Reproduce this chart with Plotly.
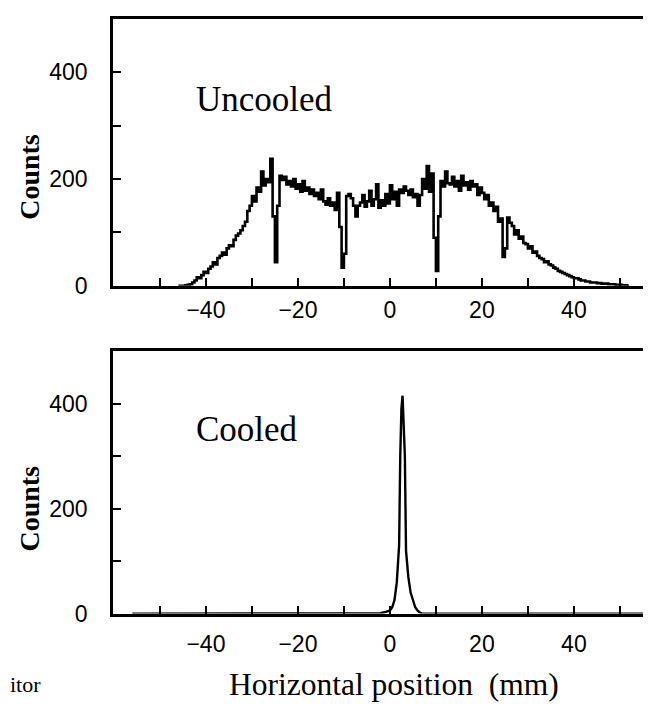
import numpy as np
import plotly.graph_objects as go

# ---------------- data ----------------
# Uncooled profile: counts sampled every 0.5 mm from -46 mm
uncooled_x0 = -46.0
uncooled_step = 0.5
uncooled_counts = [
    0, 0, 0, 1, 2, 3, 6, 10, 16, 14,          # -46 .. -41.5
    20, 26, 24, 32, 36, 44, 40, 52, 56, 62,   # -41 .. -36.5
    58, 70, 76, 74, 86, 94, 98, 104, 112, 120,  # -36 .. -31.5
    140, 150, 168, 158, 184, 176, 214, 188, 200, 194,  # -31 .. -26.5
    238, 130, 44, 150, 206, 198, 204, 190, 196, 186,   # -26 .. -21.5
    200, 182, 190, 176, 196, 178, 184, 172, 180, 168,  # -21 .. -16.5
    174, 162, 180, 158, 152, 164, 150, 156, 142, 174,  # -16 .. -11.5
    110, 34, 60, 168, 172, 164, 150, 130, 150, 156,    # -11 .. -6.5
    170, 148, 158, 178, 150, 162, 190, 146, 160, 150,  # -6 .. -1.5
    172, 154, 188, 162, 176, 150, 180, 174, 186, 178,  # -1 .. 3.5
    170, 180, 166, 172, 150, 170, 200, 182, 224, 176,  # 4 .. 8.5
    210, 90, 28, 130, 196, 186, 214, 192, 190, 204,    # 9 .. 13.5
    186, 196, 178, 206, 188, 194, 180, 196, 186, 190,  # 14 .. 18.5
    170, 184, 174, 162, 170, 150, 156, 140, 148, 120,  # 19 .. 23.5
    126, 54, 70, 128, 118, 112, 96, 104, 88, 92,       # 24 .. 28.5
    80, 78, 70, 74, 62, 64, 56, 52, 50, 44,            # 29 .. 33.5
    46, 40, 38, 34, 32, 28, 26, 24, 22, 20,            # 34 .. 38.5
    18, 16, 14, 14, 12, 10, 10, 8, 8, 6,               # 39 .. 43.5
    6, 6, 5, 5, 4, 4, 4, 3, 3, 3,                      # 44 .. 48.5
    2, 2, 2, 1, 1, 0, 0,                               # 49 .. 52
]

# Cooled profile
cooled_x = [-56, -10, -4, -2, -1, 0, 0.5, 1.0, 1.5, 1.75, 2.0, 2.25, 2.5, 2.75,
            3.0, 3.25, 3.5, 3.75, 4.0, 4.5, 5.0, 5.5, 6.0, 6.5, 7.0, 20, 57]
cooled_counts = [0, 0, 0, 1, 3, 6, 12, 26, 60, 90, 130, 300, 390, 415,
                 350, 300, 120, 90, 70, 40, 24, 12, 6, 2, 0, 0, 0]

x_tick_vals = [-50, -40, -30, -20, -10, 0, 10, 20, 30, 40, 50]
x_tick_text = ["", "\u221240", "", "\u221220", "", "0", "", "20", "", "40", ""]
y_tick_vals = [0, 100, 200, 300, 400]
y_tick_text = ["0", "", "200", "", "400"]

panel_labels = ["Uncooled", "Cooled"]
y_title = "Counts"
x_title = "Horizontal position  (mm)"
caption_fragment = "itor"

uncooled_x = uncooled_x0 + uncooled_step * np.arange(len(uncooled_counts))

# ---------------- figure ----------------
W, H = 651, 704
fig = go.Figure()

fig.add_trace(go.Scatter(x=uncooled_x, y=uncooled_counts, mode="lines",
                         line=dict(shape="hv", color="black", width=2.6),
                         xaxis="x", yaxis="y", showlegend=False))
fig.add_trace(go.Scatter(x=cooled_x, y=cooled_counts, mode="lines",
                         line=dict(color="black", width=2.4),
                         xaxis="x2", yaxis="y2", showlegend=False))

def py(p):  # pixel from top -> paper fraction
    return 1 - p / H

x_dom = [105 / W, 1.0]
xrange = [-60.2, 58.5]

tick_font = dict(family="Liberation Sans, Arial, sans-serif", size=23, color="black")

common_x = dict(range=xrange, domain=x_dom, showgrid=False, zeroline=False,
                showline=True, linecolor="black", linewidth=2.6, mirror=True,
                ticks="inside", ticklen=8, tickwidth=2.2, tickcolor="black",
                tickmode="array", tickvals=x_tick_vals, ticktext=x_tick_text,
                tickfont=tick_font, fixedrange=True)
common_y = dict(range=[0, 500], showgrid=False, zeroline=False,
                showline=True, linecolor="black", linewidth=2.6,
                ticks="inside", ticklen=8, tickwidth=2.2, tickcolor="black",
                tickmode="array", tickvals=y_tick_vals, ticktext=y_tick_text,
                tickfont=tick_font, ticklabelstandoff=18, fixedrange=True)

fig.update_layout(
    width=W, height=H,
    margin=dict(l=0, r=0, t=0, b=0),
    paper_bgcolor="white", plot_bgcolor="white",
    xaxis=dict(anchor="y", ticklabelstandoff=2, **common_x),
    yaxis=dict(anchor="x", domain=[py(283), py(11)], **common_y),
    xaxis2=dict(anchor="y2", ticklabelstandoff=8, **common_x),
    yaxis2=dict(anchor="x2", domain=[py(617), py(349.5)], **common_y),
)

serif = "Liberation Serif, Times New Roman, serif"
annotations = [
    dict(text=panel_labels[0], x=186 / W, y=py(93), xanchor="left", yanchor="middle",
         font=dict(family=serif, size=35, color="black")),
    dict(text=panel_labels[1], x=186 / W, y=py(429), xanchor="left", yanchor="middle",
         font=dict(family=serif, size=35, color="black")),
    dict(text="<b>" + y_title + "</b>", x=22 / W, y=py(172), textangle=-90,
         xanchor="center", yanchor="middle",
         font=dict(family=serif, size=28, color="black")),
    dict(text="<b>" + y_title + "</b>", x=22 / W, y=py(510), textangle=-90,
         xanchor="center", yanchor="middle",
         font=dict(family=serif, size=28, color="black")),
    dict(text=x_title.replace("  ", "&nbsp; "), x=386 / W, y=py(689), xanchor="center",
         yanchor="middle", font=dict(family=serif, size=31.5, color="black")),
    dict(text=caption_fragment, x=0, y=0, xanchor="left", yanchor="bottom",
         font=dict(family=serif, size=22, color="black")),
]
for a in annotations:
    a.update(xref="paper", yref="paper", showarrow=False)
fig.update_layout(annotations=annotations)

fig.write_html("out.html")
